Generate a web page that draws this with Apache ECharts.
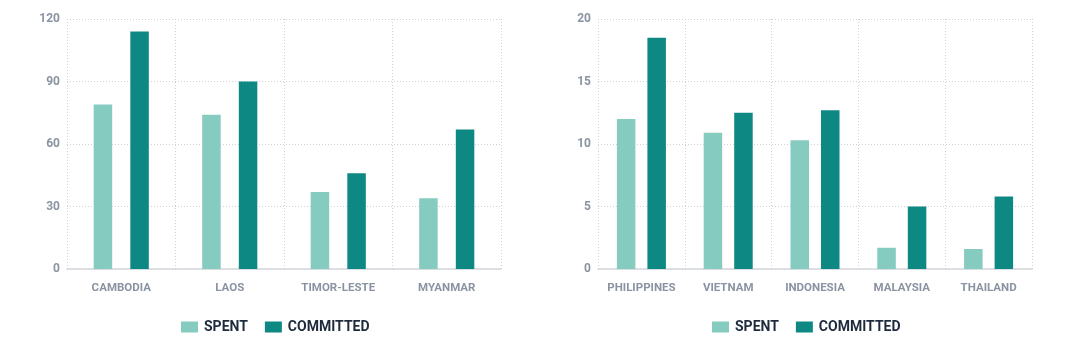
<!DOCTYPE html>
<html><head><meta charset="utf-8">
<script src="https://cdn.jsdelivr.net/npm/echarts@6/dist/echarts.min.js"></script>
<style>html,body{margin:0;padding:0;background:#fff}#c{width:1080px;height:347px}</style>
</head><body><div id="c"></div>
<script>
const leftCategories = ['CAMBODIA','LAOS','TIMOR-LESTE','MYANMAR'];
const leftSpent = [79, 74, 37, 34];
const leftCommitted = [114, 90, 46, 67];
const rightCategories = ['PHILIPPINES','VIETNAM','INDONESIA','MALAYSIA','THAILAND'];
const rightSpent = [12, 10.9, 10.3, 1.7, 1.6];
const rightCommitted = [18.5, 12.5, 12.7, 5, 5.8];
const seriesNames = ['SPENT','COMMITTED'];

const FONT = 'Roboto, sans-serif';
const C_SPENT = '#86cbbf', C_COMM = '#0e8883';
const gridLine = {show:true, lineStyle:{color:'#cfd3d9', type:[1,2], width:1}};
function xAxis(i, cats){
  return {type:'category', gridIndex:i, data:cats,
    axisLine:{show:true, lineStyle:{color:'#d3d6db', width:1.5}},
    axisTick:{show:false},
    axisLabel:{color:'#8a93a1', fontFamily:FONT, fontWeight:'bold', fontSize:11.5, margin:13, interval:0},
    splitLine:gridLine};
}
function yAxis(i, max, step){
  return {type:'value', gridIndex:i, min:0, max:max, interval:step,
    axisLine:{show:false}, axisTick:{show:false},
    axisLabel:{color:'#8a93a1', fontFamily:FONT, fontWeight:'bold', fontSize:12, margin:7},
    splitLine:gridLine};
}
function legend(left){
  return {left:left, top:315, itemWidth:17, itemHeight:11, itemGap:17,
    icon:'rect', data:seriesNames,
    textStyle:{color:'#1e2b3c', fontFamily:FONT, fontWeight:'bold', fontSize:14, padding:[0,0,0,1]}};
}
const chart = echarts.init(document.getElementById('c'), null, {renderer:'canvas'});
chart.setOption({
  animation:false,
  grid:[{left:67, right:579, top:19, bottom:78},{left:598, right:48, top:19, bottom:78}],
  xAxis:[xAxis(0,leftCategories), xAxis(1,rightCategories)],
  yAxis:[yAxis(0,120,30), yAxis(1,20,5)],
  legend:[legend(176), legend(707)],
  series:[
    {name:seriesNames[0], type:'bar', xAxisIndex:0, yAxisIndex:0, data:leftSpent, barWidth:18.5, barGap:'98%', itemStyle:{color:C_SPENT}},
    {name:seriesNames[1], type:'bar', xAxisIndex:0, yAxisIndex:0, data:leftCommitted, barWidth:18.5, barGap:'98%', itemStyle:{color:C_COMM}},
    {name:seriesNames[0], type:'bar', xAxisIndex:1, yAxisIndex:1, data:rightSpent, barWidth:18.5, barGap:'65%', itemStyle:{color:C_SPENT}},
    {name:seriesNames[1], type:'bar', xAxisIndex:1, yAxisIndex:1, data:rightCommitted, barWidth:18.5, barGap:'65%', itemStyle:{color:C_COMM}}
  ]
});
</script></body></html>
